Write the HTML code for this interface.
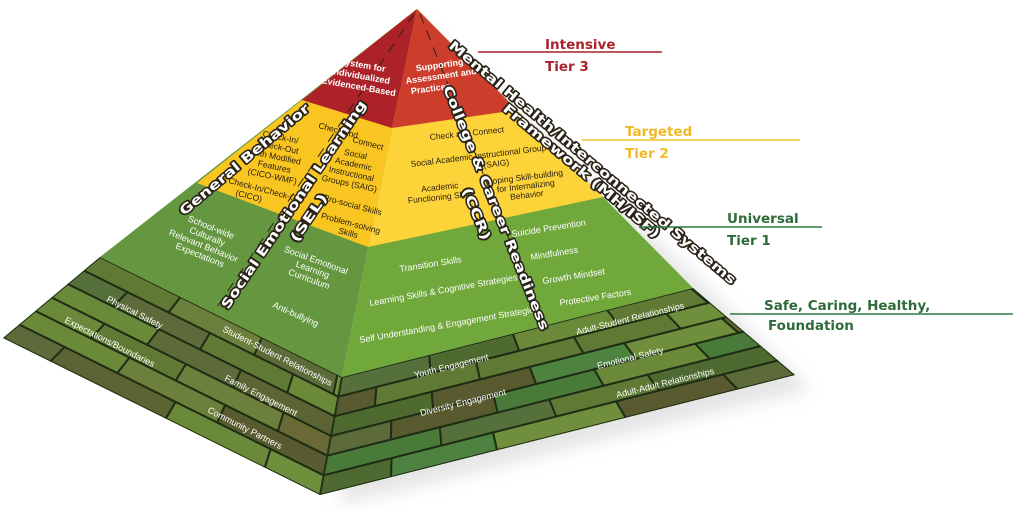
<!DOCTYPE html>
<html><head><meta charset="utf-8"><style>
html,body{margin:0;padding:0;background:#fff;}
svg{display:block;font-family:"Liberation Sans",sans-serif;}
.w{fill:#fff;font-size:9px;}
.d{fill:#2a2010;font-size:8.5px;}
.big{font-family:"DejaVu Sans","Liberation Sans",sans-serif;font-weight:bold;font-size:13px;fill:#fff;stroke:#2a2418;stroke-width:3px;paint-order:stroke;stroke-linejoin:round;}
.lab{font-family:"DejaVu Sans","Liberation Sans",sans-serif;font-weight:bold;font-size:13.5px;}
</style></head><body>
<svg id="s" width="1024" height="511" viewBox="0 0 1024 511">
<defs>
<clipPath id="cl"><polygon points="100,257 342,377 320,495 3,338"/></clipPath>
<clipPath id="cr"><polygon points="342,377 693,288 795,375 320,495"/></clipPath>
<filter id="sh"><feGaussianBlur stdDeviation="8"/></filter>
</defs>
<polygon points="420,20 720,300 810,390 340,505" fill="#ccc" opacity="0.5" filter="url(#sh)"/>
<polygon points="100,257 342,377 320,495 3,338" fill="#5c7a32"/>
<polygon points="342,377 693,288 795,375 320,495" fill="#5f8a34"/>
<g id="bl" clip-path="url(#cl)"></g>
<g id="br" clip-path="url(#cr)"></g>
<polygon points="417,9 100,257 342,377" fill="#64973f"/>
<polygon points="417,9 197,183 368,247" fill="#f9c521"/>
<polygon points="417,9 302,100 392,128" fill="#ac2228"/>
<polygon points="417,9 342,377 693,288" fill="#70a83c"/>
<polygon points="417,9 368,247 603,197" fill="#fdd33a"/>
<polygon points="417,9 392,128 517,110" fill="#cc3d2c"/>
<g stroke="#2a2418" stroke-width="1" stroke-dasharray="10,8" fill="none">
<line x1="414" y1="14" x2="215" y2="310"/>
<line x1="420" y1="14" x2="545" y2="330"/>
</g>
<g class="w" font-weight="bold" font-size="8">
<text transform="translate(362,68) rotate(10)" text-anchor="middle"><tspan x="0">System for</tspan><tspan x="0" dy="11">Individualized</tspan><tspan x="0" dy="11">Evidenced-Based</tspan></text>
<text transform="translate(440,68) rotate(-8)" text-anchor="middle"><tspan x="0">Supporting</tspan><tspan x="0" dy="11">Assessment and</tspan><tspan x="-12" dy="11">Practices</tspan></text>
</g>
<g class="d">
<text transform="translate(318,128) rotate(15)">Check and</text>
<text transform="translate(352,142) rotate(15)">Connect</text>
<text transform="translate(280,140) rotate(12)" text-anchor="middle"><tspan x="0">Check-In/</tspan><tspan x="0" dy="10">Check-Out</tspan><tspan x="0" dy="10">with Modified</tspan><tspan x="0" dy="10">Features</tspan><tspan x="0" dy="10">(CICO-WMF)</tspan></text>
<text transform="translate(355,157) rotate(12)" text-anchor="middle"><tspan x="0">Social</tspan><tspan x="0" dy="10">Academic</tspan><tspan x="0" dy="10">Instructional</tspan><tspan x="0" dy="10">Groups (SAIG)</tspan></text>
<text transform="translate(228,183) rotate(15)"><tspan>Check-In/Check-Out</tspan><tspan x="10" dy="10">(CICO)</tspan></text>
<text transform="translate(323,200) rotate(15)">Pro-social Skills</text>
<text transform="translate(350,226) rotate(15)" text-anchor="middle"><tspan x="0">Problem-solving</tspan><tspan x="0" dy="10">Skills</tspan></text>
</g>
<g class="d">
<text transform="translate(430,140) rotate(-6)">Check and Connect</text>
<text transform="translate(411,167) rotate(-7)"><tspan>Social Academic Instructional Group</tspan><tspan x="72" dy="10">(SAIG)</tspan></text>
<text transform="translate(440,190) rotate(-6)" text-anchor="middle"><tspan x="0">Academic</tspan><tspan x="0" dy="10">Functioning Skills</tspan></text>
<text transform="translate(525,180) rotate(-7)" text-anchor="middle"><tspan x="0">Coping Skill-building</tspan><tspan x="0" dy="9">for Internalizing</tspan><tspan x="0" dy="9">Behavior</tspan></text>
</g>
<g class="w">
<text transform="translate(210,230) rotate(22)" text-anchor="middle"><tspan x="0">School-wide</tspan><tspan x="0" dy="10">Culturally</tspan><tspan x="0" dy="10">Relevant Behavior</tspan><tspan x="0" dy="10">Expectations</tspan></text>
<text transform="translate(315,263) rotate(20)" text-anchor="middle"><tspan x="0">Social Emotional</tspan><tspan x="0" dy="10">Learning</tspan><tspan x="0" dy="10">Curriculum</tspan></text>
<text transform="translate(272,307) rotate(24)">Anti-bullying</text>
<text transform="translate(400,272) rotate(-9)">Transition Skills</text>
<text transform="translate(370,306) rotate(-10)">Learning Skills &amp; Cognitive Strategies</text>
<text transform="translate(360,343) rotate(-10)">Self Understanding &amp; Engagement Strategie</text>
<text transform="translate(512,237) rotate(-9)">Suicide Prevention</text>
<text transform="translate(531,260) rotate(-9)">Mindfulness</text>
<text transform="translate(543,284) rotate(-9)">Growth Mindset</text>
<text transform="translate(560,306) rotate(-9)">Protective Factors</text>
</g>
<g class="w" font-size="8.5">
<text transform="translate(106,301) rotate(27)">Physical Safety</text>
<text transform="translate(64,322) rotate(27)">Expectations/Boundaries</text>
<text transform="translate(222,331) rotate(27)">Student-Student Relationships</text>
<text transform="translate(224,380) rotate(27)">Family Engagement</text>
<text transform="translate(207,412) rotate(27)">Community Partners</text>
<text transform="translate(415,378) rotate(-14)">Youth Engagement</text>
<text transform="translate(421,416) rotate(-14)">Diversity Engagement</text>
<text transform="translate(577,335) rotate(-14)">Adult-Student Relationships</text>
<text transform="translate(598,369) rotate(-14)">Emotional Safety</text>
<text transform="translate(617,398) rotate(-14)">Adult-Adult Relationships</text>
</g>
<text class="big" transform="translate(184,216) rotate(-40)" textLength="165" lengthAdjust="spacingAndGlyphs">General Behavior</text>
<text class="big" transform="translate(228,310) rotate(-56)" textLength="248" lengthAdjust="spacingAndGlyphs">Social Emotional Learning</text>
<text class="big" transform="translate(297,243) rotate(-56)" textLength="55" lengthAdjust="spacingAndGlyphs">(SEL)</text>
<text class="big" transform="translate(443,88) rotate(68)" textLength="262" lengthAdjust="spacingAndGlyphs">College &amp; Career Readiness</text>
<text class="big" transform="translate(462,190) rotate(68)" textLength="55" lengthAdjust="spacingAndGlyphs">(CCR)</text>
<text class="big" transform="translate(448,47) rotate(40)" textLength="370" lengthAdjust="spacingAndGlyphs">Mental Health/Interconnected Systems</text>
<text class="big" transform="translate(502,110) rotate(40)" textLength="200" lengthAdjust="spacingAndGlyphs">Framework (MH/ISF)</text>
<g class="lab">
<line x1="478" y1="52" x2="662" y2="52" stroke="#a8232a" stroke-width="1.5"/>
<text x="545" y="49" fill="#a8232a">Intensive</text>
<text x="545" y="71" fill="#a8232a">Tier 3</text>
<line x1="582" y1="140" x2="800" y2="140" stroke="#f2c22e" stroke-width="1.5"/>
<text x="625" y="136" fill="#f2b825">Targeted</text>
<text x="625" y="158" fill="#f2b825">Tier 2</text>
<line x1="639" y1="227" x2="822" y2="227" stroke="#2e7a3e" stroke-width="1.5"/>
<text x="727" y="223" fill="#2e6b3a">Universal</text>
<text x="727" y="245" fill="#2e6b3a">Tier 1</text>
<line x1="730" y1="314" x2="1013" y2="314" stroke="#2e7a3e" stroke-width="1.5"/>
<text x="764" y="310" fill="#2e6b3a">Safe, Caring, Healthy,</text>
<text x="768" y="330" fill="#2e6b3a">Foundation</text>
</g>
</svg>
<script>
(function(){
var ns="http://www.w3.org/2000/svg";
var cols=["#5d6b3a","#4f6a30","#6a8a3a","#5a5a30","#4a7a3a","#607a35","#6d7f3d","#55703a","#6a6a38","#4e8240","#6f8f3c","#5c6433"];
var seed=7;function r(){seed=(seed*9301+49297)%233280;return seed/233280;}
function L(a,b,t){return [a[0]+(b[0]-a[0])*t,a[1]+(b[1]-a[1])*t];}
function face(g,A,B,D,C,rows,n){
 var G=document.getElementById(g);
 for(var i=0;i<rows;i++){
  var t0=i/rows,t1=(i+1)/rows;
  var P0=L(A,D,t0),Q0=L(B,C,t0),P1=L(A,D,t1),Q1=L(B,C,t1);
  var off=(i%2)*0.5/n;
  var s=[-off];for(var k=1;k<=n+1;k++)s.push(k/n-off+(r()-0.5)*0.05);
  for(var k=0;k<s.length-1;k++){
   var a=Math.max(0,s[k]),b=Math.min(1,s[k+1]);if(b<=a)continue;
   var p=[L(P0,Q0,a),L(P0,Q0,b),L(P1,Q1,b),L(P1,Q1,a)];
   var e=document.createElementNS(ns,"polygon");
   e.setAttribute("points",p.map(function(x){return x.join(",");}).join(" "));
   e.setAttribute("fill",cols[Math.floor(r()*cols.length)]);
   e.setAttribute("stroke","#1e2e14");e.setAttribute("stroke-width","2");
   G.appendChild(e);
  }
 }
}
face("bl",[100,257],[342,377],[3,338],[320,495],6,3);
face("br",[342,377],[693,288],[320,495],[795,375],6,4);
})();
</script>
</body></html>
